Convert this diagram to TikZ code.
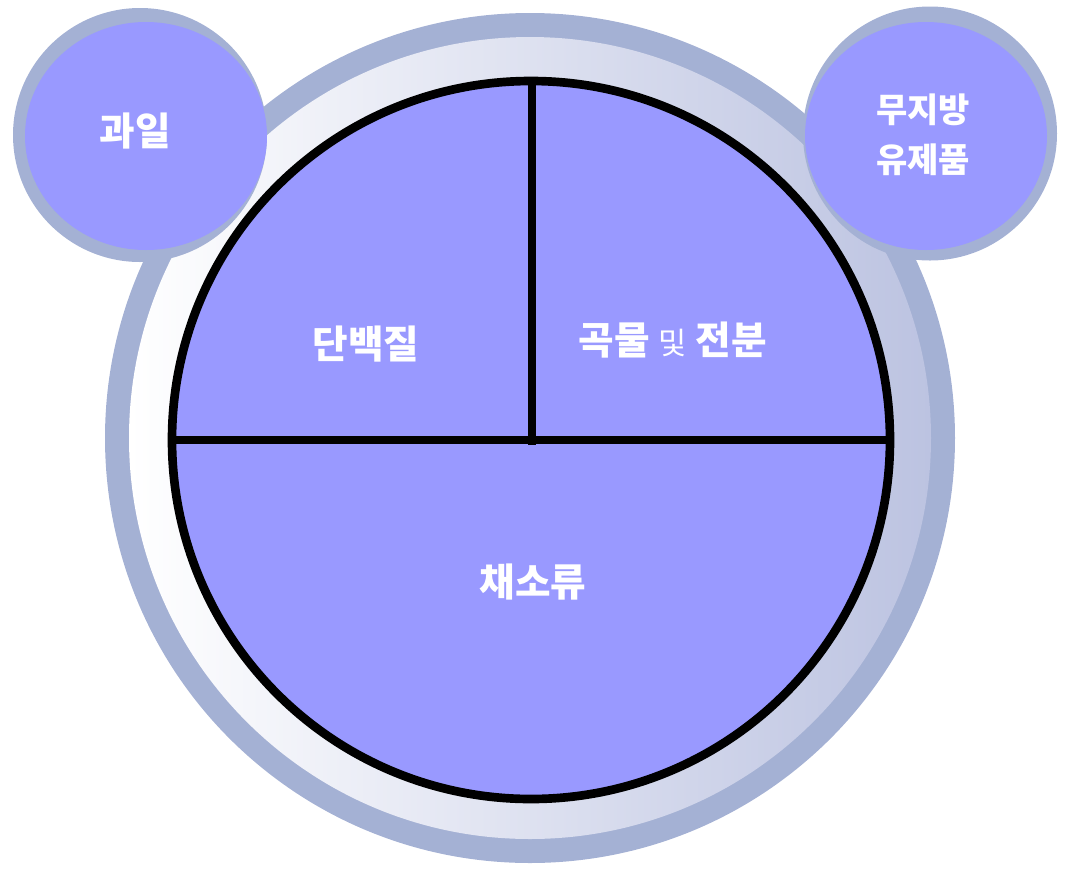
\documentclass[tikz,border=0pt]{standalone}
\usepackage{fontspec}
\newfontfamily\kr{Noto Sans CJK KR}
\definecolor{plate}{RGB}{153,153,255}
\definecolor{rim}{RGB}{164,177,212}
\definecolor{rimdark}{RGB}{188,195,225}
\begin{document}
\begin{tikzpicture}[x=0.75pt,y=-0.75pt,
  lbl/.style={text=white,font=\kr\bfseries\fontsize{29}{34}\selectfont,align=center,inner sep=0pt},
  lblsmall/.style={text=white,font=\kr\bfseries\fontsize{25.5}{37.5}\selectfont,align=center,inner sep=0pt},
  divider/.style={line width=6.5pt,draw=black}]
\useasboundingbox (0,0) rectangle (1065,869);
% outer ring
\fill[rim] (530,438) circle[radius=425];
\shade[left color=white,right color=rimdark] (530,438) circle[radius=401];
% plate
\filldraw[fill=plate,divider] (531,440) circle[radius=359];
\draw[divider] (172,440) -- (890,440);
\draw[divider] (532,81) -- (532,445);
% side circles
\fill[rim] (140,135) circle[radius=127];
\fill[plate] (146,136) ellipse[x radius=121,y radius=114];
\fill[rim] (930,133.5) circle[radius=127];
\fill[plate] (926,136) ellipse[x radius=121,y radius=114];
% labels
\node[lbl] (fruit) at (135,131) {과일};
\node[lblsmall] (dairy) at (923,135) {무지방\\유제품};
\node[lbl] (protein) at (366,344) {단백질};
\node[lbl] (grain) at (673,340) {곡물 {\mdseries\fontsize{23}{27}\selectfont 및} 전분};
\node[lbl] (veg) at (533,582) {채소류};
\end{tikzpicture}
\end{document}
